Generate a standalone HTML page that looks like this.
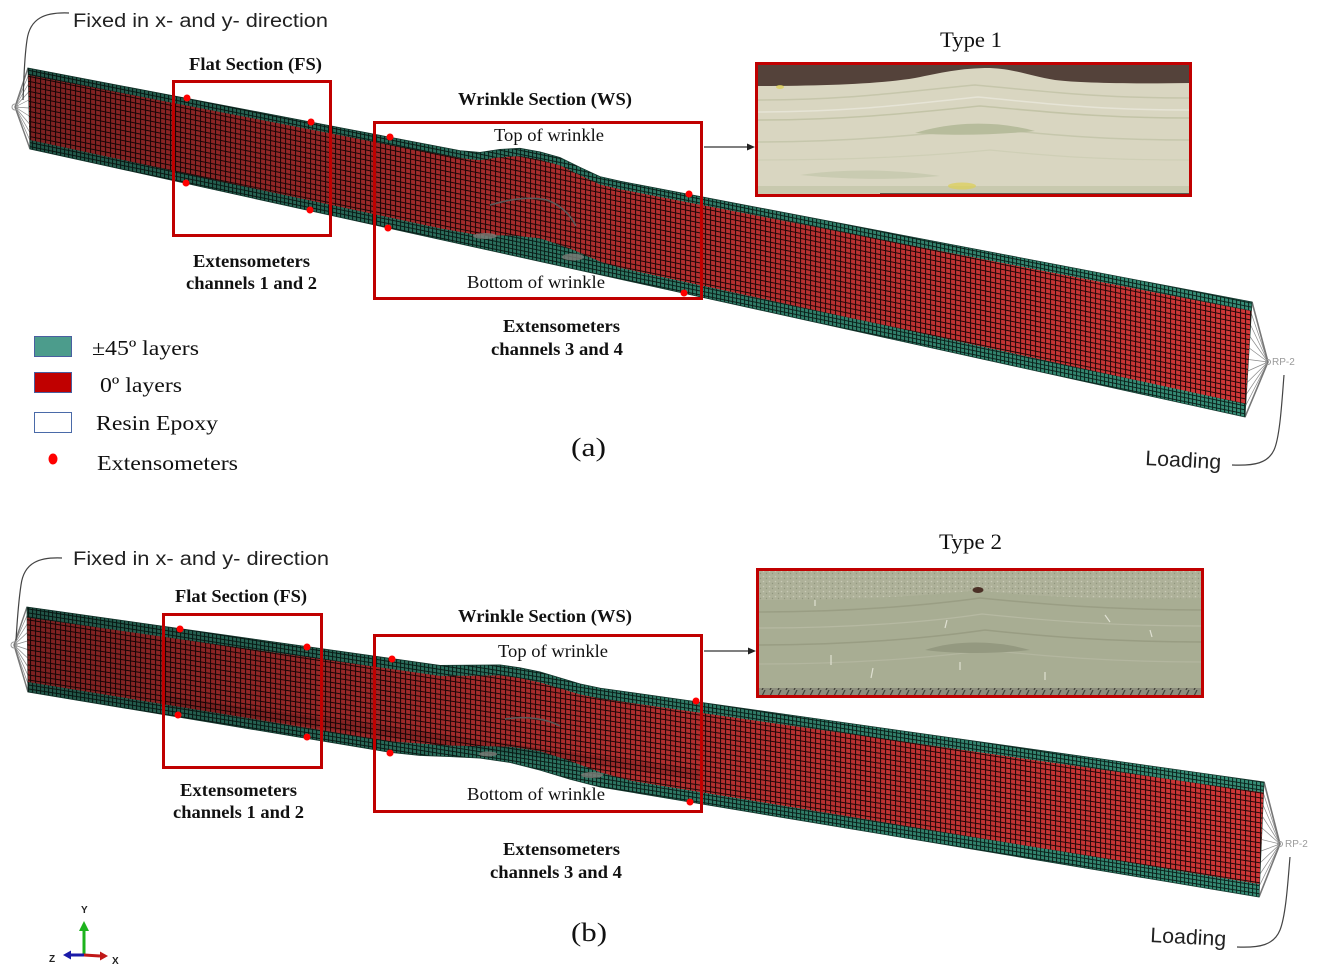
<!DOCTYPE html>
<html><head><meta charset="utf-8"><style>
html,body{margin:0;padding:0;background:#fff;}
svg{display:block;}
.b{font-family:"Liberation Serif",serif;font-weight:bold;font-size:17.5px;fill:#111;}
.r{font-family:"Liberation Serif",serif;font-size:18px;fill:#111;}
.lg{font-family:"Liberation Serif",serif;font-size:21px;fill:#111;}
.s{font-family:"Liberation Sans",sans-serif;font-size:19px;fill:#222;}
.rp{font-family:"Liberation Sans",sans-serif;font-size:10px;fill:#9a9a9a;}
.ax{font-family:"Liberation Sans",sans-serif;font-size:10px;font-weight:bold;fill:#222;}
</style></head><body>
<svg width="1319" height="976" viewBox="0 0 1319 976" xmlns="http://www.w3.org/2000/svg">
<defs>
  <pattern id="ra" width="5" height="5" patternUnits="userSpaceOnUse" patternTransform="skewY(11.5)">
    <rect width="5" height="5" fill="#240808"/><rect x="1" y="1" width="4" height="4" fill="#cf3737"/>
  </pattern>
  <pattern id="ta" width="4" height="4" patternUnits="userSpaceOnUse" patternTransform="skewY(11.5)">
    <rect width="4" height="4" fill="#0c241d"/><rect x="1" y="1" width="3" height="3" fill="#368d76"/>
  </pattern>
  <pattern id="rb" width="5" height="5" patternUnits="userSpaceOnUse" patternTransform="skewY(8.9)">
    <rect width="5" height="5" fill="#240808"/><rect x="1" y="1" width="4" height="4" fill="#cf3737"/>
  </pattern>
  <pattern id="tb" width="4" height="4" patternUnits="userSpaceOnUse" patternTransform="skewY(8.9)">
    <rect width="4" height="4" fill="#0c241d"/><rect x="1" y="1" width="3" height="3" fill="#368d76"/>
  </pattern>
  <linearGradient id="ga" gradientUnits="userSpaceOnUse" x1="28" y1="0" x2="1252" y2="0">
    <stop offset="0" stop-color="#000" stop-opacity=".4"/>
    <stop offset=".45" stop-color="#000" stop-opacity=".17"/>
    <stop offset="1" stop-color="#000" stop-opacity="0"/>
  </linearGradient>
  <linearGradient id="gb" gradientUnits="userSpaceOnUse" x1="27" y1="0" x2="1264" y2="0">
    <stop offset="0" stop-color="#000" stop-opacity=".4"/>
    <stop offset=".45" stop-color="#000" stop-opacity=".17"/>
    <stop offset="1" stop-color="#000" stop-opacity="0"/>
  </linearGradient>
  <pattern id="dots" width="6" height="5" patternUnits="userSpaceOnUse">
    <rect width="6" height="5" fill="#aeb199"/>
    <circle cx="1.5" cy="1.5" r=".8" fill="#c8cab6"/><circle cx="4.5" cy="3.5" r=".7" fill="#92967f"/>
  </pattern>
  <pattern id="hatch" width="8" height="6" patternUnits="userSpaceOnUse">
    <rect width="8" height="6" fill="#8d8f7e"/><line x1="2" y1="6" x2="5" y2="0" stroke="#3e3f36" stroke-width="1.2"/>
  </pattern>
</defs>

<!-- ================= PANEL (a) ================= -->
<g stroke="#8a8a8a" stroke-width=".7" fill="none">
  <path d="M28,68 L15,107 M28.2,76 L15,107 M28.4,84 L15,107 M28.6,92 L15,107 M28.8,100 L15,107 M29,108 L15,107 M29.2,116 L15,107 M29.4,124 L15,107 M29.6,132 L15,107 M29.8,140 L15,107 M30,149 L15,107"/>
</g>
<path d="M28,68 L15,107 L30,149" stroke="#777" stroke-width="1.4" fill="none"/>
<circle cx="15" cy="107" r="3" fill="none" stroke="#999" stroke-width="1"/>
<g stroke="#8a8a8a" stroke-width=".7" fill="none">
  <path d="M1252,302 L1268,362 M1251.3,313.5 L1268,362 M1250.6,325 L1268,362 M1249.9,336.5 L1268,362 M1249.2,348 L1268,362 M1248.5,359.5 L1268,362 M1247.8,371 L1268,362 M1247.1,382.5 L1268,362 M1246.4,394 L1268,362 M1245.7,405.5 L1268,362 M1245,417 L1268,362"/>
</g>
<path d="M1252,302 L1268,362 L1245,417" stroke="#777" stroke-width="1.6" fill="none"/>
<circle cx="1268" cy="362" r="2.5" fill="none" stroke="#999" stroke-width="1"/>
<text x="1272" y="365" class="rp">RP-2</text>

<path d="M28,68 L460,150.6 L480,152.4 L500,149.4 L520,148.3 L540,151.9 L560,157.5 L580,167.3 L600,176.6 L620,181.2 L1252,302 L1245,417 L30,149 Z" fill="url(#ta)" stroke="#163a30" stroke-width=".8"/>
<path d="M28.2,75 L460,158.3 L480,160.1 L500,157.2 L520,156.1 L540,159.7 L560,165.4 L580,175.2 L600,184.5 L620,189.2 L1251.4,311 L1245.8,404 L620,267.7 L600,261.5 L570,248.5 L540,238.2 L510,235.4 L480,235.4 L440,228.4 L29.8,140 Z" fill="url(#ra)"/>
<path d="M28,68 L460,150.6 L480,152.4 L500,149.4 L520,148.3 L540,151.9 L560,157.5 L580,167.3 L600,176.6 L620,181.2 L1252,302 L1245,417 L30,149 Z" fill="url(#ga)"/>
<path d="M490,205 C510,199 530,196 547,200 C560,205 570,214 576,226" stroke="#5a5a5a" stroke-width="1.5" fill="none"/>
<ellipse cx="485" cy="236" rx="12" ry="3" fill="#7d7d78" opacity=".8"/>
<ellipse cx="573" cy="257" rx="11" ry="3.5" fill="#7d7d78" opacity=".8"/>

<path d="M69,13 C45,12 30,18 27,40 C24,60 24,80 23,100" stroke="#444" stroke-width="1.2" fill="none"/>
<text x="73" y="27" class="s" textLength="255" lengthAdjust="spacingAndGlyphs">Fixed in x- and y- direction</text>
<path d="M1232,465 C1255,466 1268,463 1274,450 C1280,437 1282,400 1284,375" stroke="#444" stroke-width="1.2" fill="none"/>
<text x="1145" y="465" class="s" style="font-size:21px" textLength="76" lengthAdjust="spacingAndGlyphs" transform="rotate(3 1145 465)">Loading</text>

<g fill="none" stroke="#c00000" stroke-width="3">
  <rect x="173.5" y="81.5" width="157" height="154"/>
  <rect x="374.5" y="122.5" width="327" height="176"/>
</g>
<g fill="#ff0000">
  <circle cx="187" cy="98" r="3.5"/><circle cx="311" cy="122" r="3.5"/>
  <circle cx="186" cy="183" r="3.5"/><circle cx="310" cy="210" r="3.5"/>
  <circle cx="390" cy="137" r="3.5"/><circle cx="689" cy="194" r="3.5"/>
  <circle cx="388" cy="228" r="3.5"/><circle cx="684" cy="293" r="3.5"/>
</g>

<text x="189" y="70" class="b" textLength="133" lengthAdjust="spacingAndGlyphs">Flat Section (FS)</text>
<text x="458" y="105" class="b" textLength="174" lengthAdjust="spacingAndGlyphs">Wrinkle Section (WS)</text>
<text x="494" y="141" class="r" textLength="110" lengthAdjust="spacingAndGlyphs">Top of wrinkle</text>
<text x="467" y="288" class="r" textLength="138" lengthAdjust="spacingAndGlyphs">Bottom of wrinkle</text>
<text x="193" y="267" class="b" textLength="117" lengthAdjust="spacingAndGlyphs">Extensometers</text>
<text x="186" y="289" class="b" textLength="131" lengthAdjust="spacingAndGlyphs">channels 1 and 2</text>
<text x="503" y="332" class="b" textLength="117" lengthAdjust="spacingAndGlyphs">Extensometers</text>
<text x="491" y="355" class="b" textLength="132" lengthAdjust="spacingAndGlyphs">channels 3 and 4</text>
<text x="571" y="456" class="r" style="font-size:26px" textLength="35" lengthAdjust="spacingAndGlyphs">(a)</text>
<text x="940" y="47" class="r" style="font-size:22px" textLength="62" lengthAdjust="spacingAndGlyphs">Type 1</text>

<line x1="704" y1="147" x2="748" y2="147" stroke="#333" stroke-width="1.2"/>
<path d="M755,147 L747,143.5 L747,150.5 Z" fill="#222"/>

<!-- photo 1 -->
<rect x="758" y="65" width="432" height="129" fill="#d9d6c1"/>
<path d="M758,100 C850,100 900,92 975,85 C1050,92 1100,98 1190,98" stroke="#c6c6ab" stroke-width="1.5" fill="none"/>
<path d="M758,112 C850,112 910,104 978,97 C1050,104 1100,110 1190,110" stroke="#e6e4d6" stroke-width="1.5" fill="none"/>
<path d="M758,120 C850,120 920,112 980,106 C1050,112 1100,118 1190,118" stroke="#c3c4a7" stroke-width="1.5" fill="none"/>
<path d="M758,142 C850,142 930,134 985,128 C1040,134 1100,140 1190,140" stroke="#c6c7ac" stroke-width="1.5" fill="none"/>
<path d="M758,160 C850,160 930,156 990,150 C1050,156 1100,160 1190,160" stroke="#cfcfb6" stroke-width="1.2" fill="none"/>
<path d="M915,133 C950,122 995,120 1035,131 C995,135 950,136 915,133 Z" fill="#b7bc9c"/>
<path d="M800,175 C850,168 900,170 940,176 C900,180 850,180 800,175 Z" fill="#c9cbb1"/>
<path d="M758,65 L1190,65 L1190,83 C1130,84 1080,83 1055,80 C1030,76 1015,69 990,68 C960,68 940,73 915,78 C880,84 820,86 758,86 Z" fill="#54423a"/>
<rect x="758" y="186" width="432" height="8" fill="#c8c9ae"/>
<line x1="880" y1="193.5" x2="1190" y2="193.5" stroke="#5a5a50" stroke-width="1"/>
<ellipse cx="962" cy="186" rx="14" ry="3.5" fill="#dccf5a" opacity=".75"/>
<ellipse cx="780" cy="87" rx="4" ry="2" fill="#dccf5a" opacity=".8"/>
<rect x="756.5" y="63.5" width="434" height="132" fill="none" stroke="#c00000" stroke-width="3"/>

<!-- legend -->
<rect x="34.5" y="336.5" width="37" height="20" fill="#4c9c8c" stroke="#4a5fa0" stroke-width="1"/>
<rect x="34.5" y="372.5" width="37" height="20" fill="#c00000" stroke="#4a5fa0" stroke-width="1"/>
<rect x="34.5" y="412.5" width="37" height="20" fill="#fff" stroke="#4a6aa8" stroke-width="1"/>
<ellipse cx="53" cy="459" rx="4.5" ry="5.5" fill="#ff0000"/>
<text x="92" y="355" class="lg" textLength="107" lengthAdjust="spacingAndGlyphs">±45º layers</text>
<text x="100" y="392" class="lg" textLength="82" lengthAdjust="spacingAndGlyphs">0º layers</text>
<text x="96" y="430" class="lg" textLength="122" lengthAdjust="spacingAndGlyphs">Resin Epoxy</text>
<text x="97" y="470" class="lg" textLength="141" lengthAdjust="spacingAndGlyphs">Extensometers</text>

<!-- ================= PANEL (b) ================= -->
<g stroke="#8a8a8a" stroke-width=".7" fill="none">
  <path d="M27,607 L14,645 M27.1,615.5 L14,645 M27.2,624 L14,645 M27.3,632.5 L14,645 M27.4,641 L14,645 M27.5,649.5 L14,645 M27.6,658 L14,645 M27.7,666.5 L14,645 M27.8,675 L14,645 M27.9,683.5 L14,645 M28,692 L14,645"/>
</g>
<path d="M27,607 L14,645 L28,692" stroke="#777" stroke-width="1.4" fill="none"/>
<circle cx="14" cy="645" r="3" fill="none" stroke="#999" stroke-width="1"/>
<g stroke="#8a8a8a" stroke-width=".7" fill="none">
  <path d="M1264,782 L1280,844 M1263.5,793.5 L1280,844 M1263,805 L1280,844 M1262.5,816.5 L1280,844 M1262,828 L1280,844 M1261.5,839.5 L1280,844 M1261,851 L1280,844 M1260.5,862.5 L1280,844 M1260,874 L1280,844 M1259.5,885.5 L1280,844 M1259,897 L1280,844"/>
</g>
<path d="M1264,782 L1280,844 L1259,897" stroke="#777" stroke-width="1.6" fill="none"/>
<circle cx="1280" cy="844" r="2.5" fill="none" stroke="#999" stroke-width="1"/>
<text x="1285" y="847" class="rp">RP-2</text>

<path d="M27,607 L440,665.4 L470,665.2 L500,664.9 L520,667.8 L540,671.9 L560,677.9 L580,683.9 L600,688.1 L1264,782 L1259,897 L600,787 L570,779.3 L540,770.1 L510,762.5 L480,758.1 L450,756.6 L420,755.5 L390,752.3 L28,692 Z" fill="url(#tb)" stroke="#163a30" stroke-width=".8"/>
<path d="M27.1,617.5 L440,675.9 L470,675.7 L500,675.4 L520,678.3 L540,682.4 L560,688.4 L580,694.4 L600,698.6 L1263.5,792.5 L1259.5,884 L630,780.5 L600,772.3 L570,760.9 L540,751.1 L510,746.6 L480,746.1 L450,745.6 L390,741.4 L27.9,682 Z" fill="url(#rb)"/>
<path d="M27,607 L440,665.4 L470,665.2 L500,664.9 L520,667.8 L540,671.9 L560,677.9 L580,683.9 L600,688.1 L1264,782 L1259,897 L600,787 L570,779.3 L540,770.1 L510,762.5 L480,758.1 L450,756.6 L420,755.5 L390,752.3 L28,692 Z" fill="url(#gb)"/>
<path d="M160,695 L700,770 L700,780 L160,706 Z" fill="#000" opacity=".12"/>
<path d="M505,719 C525,716 545,718 560,726" stroke="#5a5a5a" stroke-width="1.5" fill="none"/>
<ellipse cx="488" cy="754" rx="9" ry="2.5" fill="#7d7d78" opacity=".8"/>
<ellipse cx="592" cy="775" rx="11" ry="3" fill="#7d7d78" opacity=".8"/>

<path d="M62,558 C40,557 24,562 21,585 C18,605 17,625 16,640" stroke="#444" stroke-width="1.2" fill="none"/>
<text x="73" y="565" class="s" textLength="256" lengthAdjust="spacingAndGlyphs">Fixed in x- and y- direction</text>
<path d="M1237,947 C1260,948 1274,945 1280,930 C1286,915 1288,880 1290,857" stroke="#444" stroke-width="1.2" fill="none"/>
<text x="1150" y="942" class="s" style="font-size:21px" textLength="76" lengthAdjust="spacingAndGlyphs" transform="rotate(3 1150 942)">Loading</text>

<g fill="none" stroke="#c00000" stroke-width="3">
  <rect x="163.5" y="614.5" width="158" height="153"/>
  <rect x="374.5" y="635.5" width="327" height="176"/>
</g>
<g fill="#ff0000">
  <circle cx="180" cy="629" r="3.5"/><circle cx="307" cy="647" r="3.5"/>
  <circle cx="178" cy="715" r="3.5"/><circle cx="307" cy="737" r="3.5"/>
  <circle cx="392" cy="659" r="3.5"/><circle cx="696" cy="701" r="3.5"/>
  <circle cx="390" cy="753" r="3.5"/><circle cx="690" cy="802" r="3.5"/>
</g>

<text x="175" y="602" class="b" textLength="132" lengthAdjust="spacingAndGlyphs">Flat Section (FS)</text>
<text x="458" y="622" class="b" textLength="174" lengthAdjust="spacingAndGlyphs">Wrinkle Section (WS)</text>
<text x="498" y="657" class="r" textLength="110" lengthAdjust="spacingAndGlyphs">Top of wrinkle</text>
<text x="467" y="800" class="r" textLength="138" lengthAdjust="spacingAndGlyphs">Bottom of wrinkle</text>
<text x="180" y="796" class="b" textLength="117" lengthAdjust="spacingAndGlyphs">Extensometers</text>
<text x="173" y="818" class="b" textLength="131" lengthAdjust="spacingAndGlyphs">channels 1 and 2</text>
<text x="503" y="855" class="b" textLength="117" lengthAdjust="spacingAndGlyphs">Extensometers</text>
<text x="490" y="878" class="b" textLength="132" lengthAdjust="spacingAndGlyphs">channels 3 and 4</text>
<text x="571" y="941" class="r" style="font-size:26px" textLength="36" lengthAdjust="spacingAndGlyphs">(b)</text>
<text x="939" y="549" class="r" style="font-size:22px" textLength="63" lengthAdjust="spacingAndGlyphs">Type 2</text>

<line x1="704" y1="651" x2="749" y2="651" stroke="#333" stroke-width="1.2"/>
<path d="M756,651 L748,647.5 L748,654.5 Z" fill="#222"/>

<!-- photo 2 -->
<rect x="759" y="571" width="443" height="124" fill="#a8ad93"/>
<path d="M759,571 L1202,571 L1202,598 C1100,600 1020,596 978,590 C930,596 850,600 759,600 Z" fill="url(#dots)"/>
<path d="M759,612 C850,612 930,605 980,598 C1040,604 1110,610 1202,610" stroke="#9a9e84" stroke-width="1.5" fill="none"/>
<path d="M759,628 C850,628 930,622 982,614 C1040,620 1110,626 1202,626" stroke="#b6b9a2" stroke-width="1.2" fill="none"/>
<path d="M759,645 C850,645 930,638 985,630 C1040,636 1110,642 1202,642" stroke="#999d83" stroke-width="1.5" fill="none"/>
<path d="M759,664 C850,664 930,658 988,650 C1040,656 1110,662 1202,662" stroke="#b3b69f" stroke-width="1.2" fill="none"/>
<path d="M925,650 C955,640 995,640 1030,650 C995,654 955,654 925,650 Z" fill="#949980"/>
<ellipse cx="978" cy="590" rx="5.5" ry="3" fill="#4b3026"/>
<g stroke="#dfe0d2" stroke-width="1.2">
  <line x1="815" y1="600" x2="815" y2="606"/><line x1="947" y1="620" x2="945" y2="628"/>
  <line x1="831" y1="655" x2="831" y2="665"/><line x1="960" y1="662" x2="960" y2="670"/>
  <line x1="1105" y1="615" x2="1110" y2="622"/><line x1="873" y1="668" x2="871" y2="678"/>
  <line x1="1150" y1="630" x2="1152" y2="637"/><line x1="1045" y1="672" x2="1045" y2="680"/>
</g>
<rect x="759" y="688" width="443" height="7" fill="url(#hatch)"/>
<rect x="757.5" y="569.5" width="445" height="127" fill="none" stroke="#c00000" stroke-width="3"/>

<!-- axis triad -->
<line x1="84" y1="954" x2="84" y2="929" stroke="#1db31d" stroke-width="3"/>
<path d="M84,921 L79,931 L89,931 Z" fill="#1db31d"/>
<line x1="84" y1="955" x2="70" y2="955" stroke="#1a1aa8" stroke-width="3"/>
<path d="M63,955 L71,950.5 L71,959.5 Z" fill="#1a1aa8"/>
<line x1="84" y1="955" x2="100" y2="956" stroke="#c01818" stroke-width="3"/>
<path d="M108,956 L100,951.5 L100,960.5 Z" fill="#c01818"/>
<text x="81" y="913" class="ax">Y</text>
<text x="49" y="962" class="ax">Z</text>
<text x="112" y="964" class="ax">X</text>
</svg>
</body></html>
